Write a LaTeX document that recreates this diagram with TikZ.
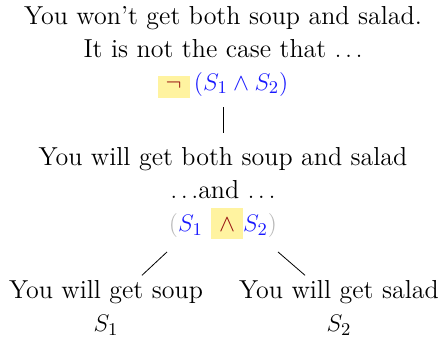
\documentclass[tikz,border=0pt]{standalone}
\usepackage{xcolor}
\usepackage{tikz}
\usetikzlibrary{calc,positioning}

\definecolor{hlyellow}{RGB}{255,243,160}
\definecolor{opred}{RGB}{150,15,15}
\definecolor{varblue}{RGB}{25,25,255}
\definecolor{parengray}{RGB}{185,185,185}

% highlighted operator: height, depth, symbol
\newcommand{\hlop}[3]{{\setlength{\fboxsep}{0pt}\colorbox{hlyellow}{\hspace{4pt}\rule[-#2]{0pt}{#1}$\color{opred}#3$\hspace{4pt}}}}

\begin{document}
\begin{tikzpicture}[
  x=0.5pt, y=-0.5pt,
  txt/.style={align=center, inner sep=0pt, font=\fontsize{13}{16.5}\selectfont},
  edge/.style={thin}
]
  \useasboundingbox (0,0) rectangle (443,345);
  \node[txt] (neg) at (223,52) {You won't get both soup and salad.\\
    It is not the case that $\dots$\\
    \hlop{11pt}{4pt}{\neg}\,$\color{varblue}(S_1\wedge S_2)$};
  \node[txt] (conj) at (223,193) {You will get both soup and salad\\
    $\dots$and $\dots$\\
    $\color{parengray}(\color{varblue}S_1\ $\hlop{15.5pt}{3.5pt}{\wedge}$\color{varblue}S_2\color{parengray})$};
  \node[txt] (soup) at (106,308) {You will get soup\\ $S_1$};
  \node[txt] (salad) at (339,308) {You will get salad\\ $S_2$};
  \draw[edge] ($(neg.south)+(0,9)$) -- ($(conj.north)+(0,-14)$);
  \draw[edge] ($(conj.south)+(-56,13)$) -- ($(soup.north)+(36,-5)$);
  \draw[edge] ($(conj.south)+(55,13)$) -- ($(salad.north)+(-34,-5)$);
\end{tikzpicture}
\end{document}
